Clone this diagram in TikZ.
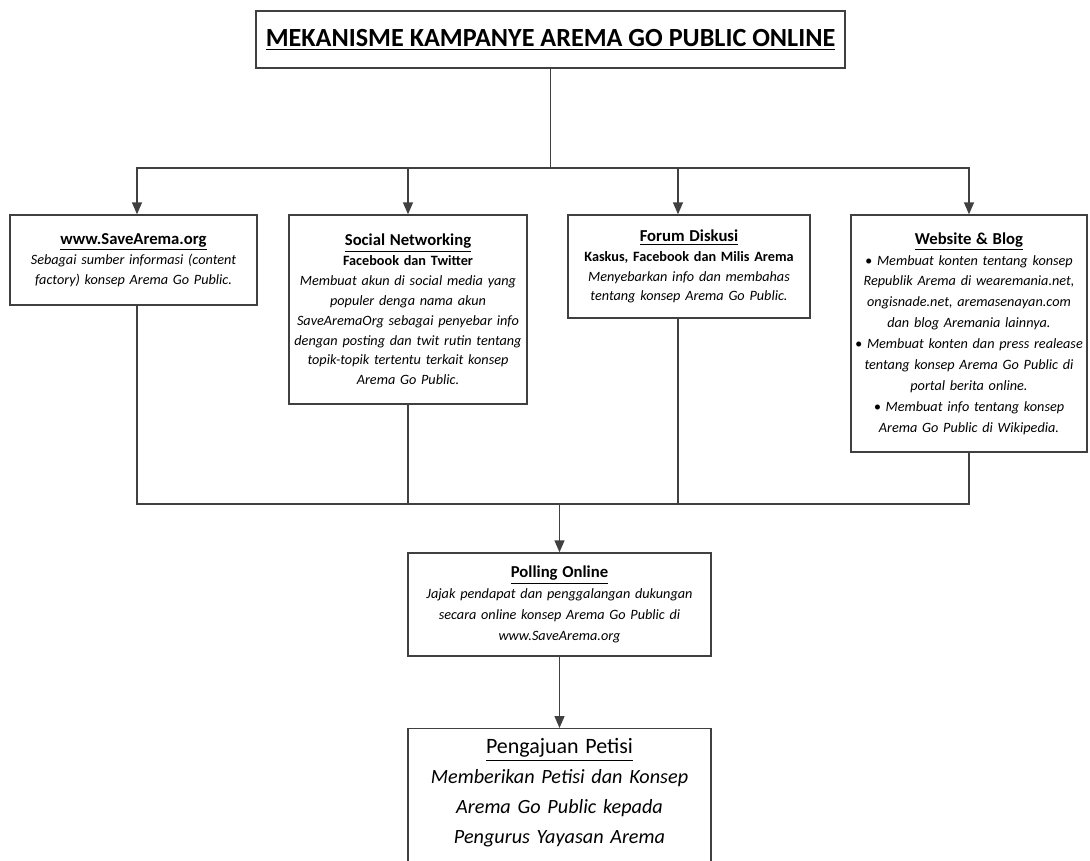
\documentclass[tikz,border=0pt]{standalone}
\usepackage{fontspec}
\setmainfont{Carlito}
\usetikzlibrary{arrows.meta}

\begin{document}
\begin{tikzpicture}[x=0.02cm, y=-0.02cm,
    kotak/.style={draw=black!75, line width=0.8pt, fill=white, align=center, inner sep=0pt},
    isi/.style={font=\fontsize{8.1}{11.3}\selectfont},
    garis/.style={draw=black!75, line width=0.8pt},
    panah/.style={garis, -{Triangle[length=2.4mm, width=2mm]}}]
    % Bingkai gambar
    \clip (0,0) rectangle (1090,861);

    % Judul
    \node[kotak, minimum width=11.78cm, minimum height=1.14cm, font=\fontsize{14.9}{17}\selectfont\bfseries] (judul) at (550.5,39.5) {\underline{MEKANISME KAMPANYE AREMA GO PUBLIC ONLINE}};

    % Empat saluran kampanye
    \node[kotak, isi, minimum width=4.94cm, minimum height=1.8cm, text width=4.8cm] (web) at (133.5,260) {{\fontsize{9.5}{11.3}\selectfont\bfseries\underline{www.SaveArema.org}}\\
        {\itshape Sebagai sumber informasi (content}\\ {\itshape factory) konsep Arema Go Public.}};
    \node[kotak, isi, minimum width=4.76cm, minimum height=3.78cm, text width=4.72cm] (sosial) at (408,309.5) {{\fontsize{9.5}{11.3}\selectfont\bfseries\underline{Social Networking}}\\
        {\bfseries Facebook dan Twitter}\\
        {\itshape Membuat akun di social media yang}\\ {\itshape populer denga nama akun}\\
        {\itshape SaveAremaOrg sebagai penyebar info}\\ {\itshape dengan posting dan twit rutin tentang}\\
        {\itshape topik-topik tertentu terkait konsep}\\ {\itshape Arema Go Public.}};
    \node[kotak, isi, minimum width=4.84cm, minimum height=2.06cm, text width=4.8cm] (forum) at (689,266.5) {{\fontsize{9.5}{11.3}\selectfont\bfseries\underline{Forum Diskusi}}\\
        {\bfseries Kaskus, Facebook dan Milis Arema}\\
        {\itshape Menyebarkan info dan membahas}\\ {\itshape tentang konsep Arema Go Public.}};
    \node[kotak, font=\fontsize{8.1}{11.9}\selectfont, minimum width=4.72cm, minimum height=4.74cm, text width=4.68cm] (website) at (969,333.5) {{\fontsize{9.5}{11.9}\selectfont\bfseries\underline{Website \& Blog}}\\
        {\itshape • Membuat konten tentang konsep}\\ {\itshape Republik Arema di wearemania.net,}\\
        {\itshape ongisnade.net, aremasenayan.com}\\ {\itshape dan blog Aremania lainnya.}\\
        {\itshape • Membuat konten dan press realease}\\ {\itshape tentang konsep Arema Go Public di}\\
        {\itshape portal berita online.}\\
        {\itshape • Membuat info tentang konsep}\\ {\itshape Arema Go Public di Wikipedia.}};

    % Polling
    \node[kotak, font=\fontsize{8.1}{11.9}\selectfont, minimum width=6.06cm, minimum height=2.06cm, text width=5.9cm] (polling) at (559.5,604.5) {{\fontsize{9.5}{11.9}\selectfont\bfseries\underline{Polling Online}}\\
        {\itshape Jajak pendapat dan penggalangan dukungan}\\ {\itshape secara online konsep Arema Go Public di}\\
        {\itshape www.SaveArema.org}};

    % Petisi
    \node[kotak, anchor=north, font=\fontsize{11.5}{17}\selectfont, minimum width=6.06cm, text width=5.9cm, inner ysep=0.2cm, text depth=2.9cm] (petisi) at (559.5,728) {{\fontsize{12.5}{17}\selectfont\underline{Pengajuan Petisi}}\\
        {\itshape Memberikan Petisi dan Konsep}\\ {\itshape Arema Go Public kepada}\\
        {\itshape Pengurus Yayasan Arema}};

    % Garis cabang atas
    \coordinate (cabang) at (550.5,168);
    \draw[garis] (judul) -- (cabang);
    \draw[panah] (cabang) -| ([xshift=0.07cm]web.north);
    \draw[panah] (cabang) -| (sosial);
    \draw[panah] (cabang) -| ([xshift=-0.22cm]forum.north);
    \draw[panah] (cabang) -| (website);

    % Garis gabung bawah
    \coordinate (gabung) at (559.5,504);
    \draw[garis] ([xshift=0.07cm]web.south) |- (gabung);
    \draw[garis] (website.south) |- (gabung);
    \draw[garis] (sosial.south) -- (sosial.south |- gabung);
    \draw[garis] ([xshift=-0.22cm]forum.south) -- ([xshift=-0.22cm]forum.south |- gabung);
    \draw[panah] (gabung) -- (polling);
    \draw[panah] (polling) -- (petisi);
\end{tikzpicture}
\end{document}
